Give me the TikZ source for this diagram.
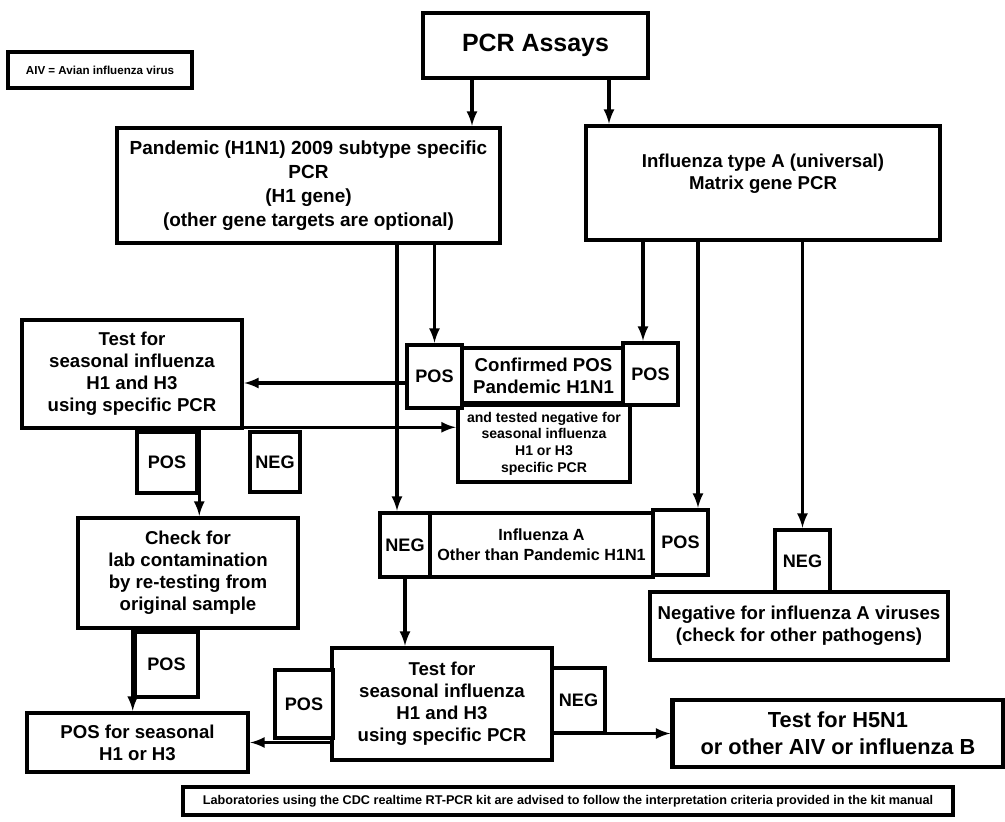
\documentclass[tikz,border=0pt]{standalone}
\usepackage{fontspec}
\setmainfont{Liberation Sans}
\usepackage{tikz}

\begin{document}
\begin{tikzpicture}[
    x=0.02cm, y=-0.02cm,
    box/.style={rectangle, draw, line width=2.6pt, fill=white,
                align=center, inner sep=1pt,
                font=\bfseries\fontsize{10.6}{12.5}\selectfont},
    tag/.style={box, minimum width=1.1cm, minimum height=1.25cm,
                font=\bfseries\fontsize{10.3}{12}\selectfont},
    arr/.style={-latex, line width=1.8pt}
]
\useasboundingbox (0,0) rectangle (1005,822);

\node[box, line width=2pt, minimum width=3.68cm, minimum height=0.72cm,
      font=\bfseries\fontsize{6.6}{7}\selectfont] (aiv) at (100,70) {AIV = Avian influenza virus};
\node[box, minimum width=4.5cm, minimum height=1.3cm,
      font=\bfseries\fontsize{14.2}{16}\selectfont] (pcr) at (535.5,45.5) {PCR Assays};
\node[box, minimum width=7.66cm, minimum height=2.3cm,
      font=\bfseries\fontsize{10.8}{13.6}\selectfont] (pandemic) at (308.5,185.5)
      {Pandemic (H1N1) 2009 subtype specific\\PCR\\(H1 gene)\\(other gene targets are optional)};
\node[box, minimum width=7.08cm, minimum height=2.28cm, text depth=0.45cm] (influenza) at (763,183)
      {Influenza type A (universal)\\Matrix gene PCR};

\node[box, minimum width=4.4cm, minimum height=2.16cm] (testl) at (132,374)
      {Test for\\seasonal influenza\\H1 and H3\\using specific PCR};
\node[box, minimum width=3.44cm, minimum height=1.54cm,
      font=\bfseries\fontsize{8}{9.5}\selectfont] (tested) at (544,443.5)
      {and tested negative for\\seasonal influenza\\H1 or H3\\specific PCR};
\node[box, minimum width=3.26cm, minimum height=1.1cm] (confirmed) at (543.5,375.5)
      {Confirmed POS\\Pandemic H1N1};
\node[tag, minimum height=1.26cm] (posl) at (434.5,376.5) {POS};
\node[tag, minimum height=1.24cm] (posr) at (650.5,374) {POS};
\node[tag, minimum width=1.2cm, minimum height=1.22cm] (posa) at (167,462.5) {POS};
\node[tag, minimum width=1cm, minimum height=1.2cm] (nega) at (275,462) {NEG};

\node[box, minimum width=4.4cm, minimum height=2.2cm] (check) at (188,573)
      {Check for\\lab contamination\\by re-testing from\\original sample};
\node[tag, minimum width=1.26cm, minimum height=1.3cm] (posb) at (166.5,664.5) {POS};
\node[box, minimum width=4.42cm, minimum height=1.18cm] (posseas) at (137.5,742.5)
      {POS for seasonal\\H1 or H3};

\node[box, minimum width=4.46cm, minimum height=1.28cm,
      font=\bfseries\fontsize{9.2}{11.3}\selectfont] (infa) at (541.5,545)
      {Influenza A\\Other than Pandemic H1N1};
\node[tag, minimum width=1cm, minimum height=1.28cm] (negc) at (405,545) {NEG};
\node[tag, minimum height=1.3cm] (posc) at (680.5,542.5) {POS};

\node[box, minimum width=5.96cm, minimum height=1.36cm] (neginf) at (799,626)
      {Negative for influenza A viruses\\(check for other pathogens)};
\node[tag, minimum height=1.24cm] (negd) at (802.5,561) {NEG};

\node[box, minimum width=4.4cm, minimum height=2.24cm] (testb) at (442,704)
      {Test for\\seasonal influenza\\H1 and H3\\using specific PCR};
\node[tag, minimum width=1.16cm, minimum height=1.36cm] (posd) at (304,704) {POS};
\node[tag, minimum width=1.06cm, minimum height=1.3cm] (nege) at (578.5,700.5) {NEG};
\node[box, minimum width=6.62cm, minimum height=1.34cm,
      font=\bfseries\fontsize{12.4}{15.3}\selectfont] (h5n1) at (838,733.5)
      {Test for H5N1\\or other AIV or influenza B};

\node[box, line width=2pt, minimum width=15.4cm, minimum height=0.56cm,
      font=\bfseries\fontsize{7.2}{8}\selectfont] (note) at (568,801)
      {Laboratories using the CDC realtime RT-PCR kit are advised to follow the interpretation criteria provided in the kit manual};

\draw[arr] ([xshift=-1.27cm]pcr.south) -- ([xshift=-1.27cm]pcr.south |- pandemic.north);
\draw[arr] ([xshift=1.47cm]pcr.south) -- ([xshift=1.47cm]pcr.south |- influenza.north);
\draw[arr] (pandemic.south -| posl.north) -- (posl.north);
\draw[arr] ([xshift=-0.15cm]posr.north |- influenza.south) -- ([xshift=-0.15cm]posr.north);
\draw[arr] ([xshift=-0.16cm]negc.north |- pandemic.south) -- ([xshift=-0.16cm]negc.north);
\draw[arr] ([xshift=0.35cm]posc.north |- influenza.south) -- ([xshift=0.35cm]posc.north);
\draw[arr] (negd.north |- influenza.south) -- (negd.north);
\draw[arr] ([yshift=-0.13cm]posl.west) -- ([yshift=-0.13cm]posl.west -| testl.east);
\draw[arr] ([yshift=0.06cm]testl.south east) -- ([yshift=0.06cm]testl.south east -| tested.west);
\draw[arr] (testl.south -| posa.east) -- (check.north -| posa.east);
\draw[arr] (check.south -| posb.west) -- (posseas.north -| posb.west);
\draw[arr] (negc.south) -- (negc.south |- testb.north);
\draw[arr] (testb.west |- posseas.east) -- (posseas.east);
\draw[arr] (testb.east |- h5n1.west) -- (h5n1.west);
\end{tikzpicture}
\end{document}
